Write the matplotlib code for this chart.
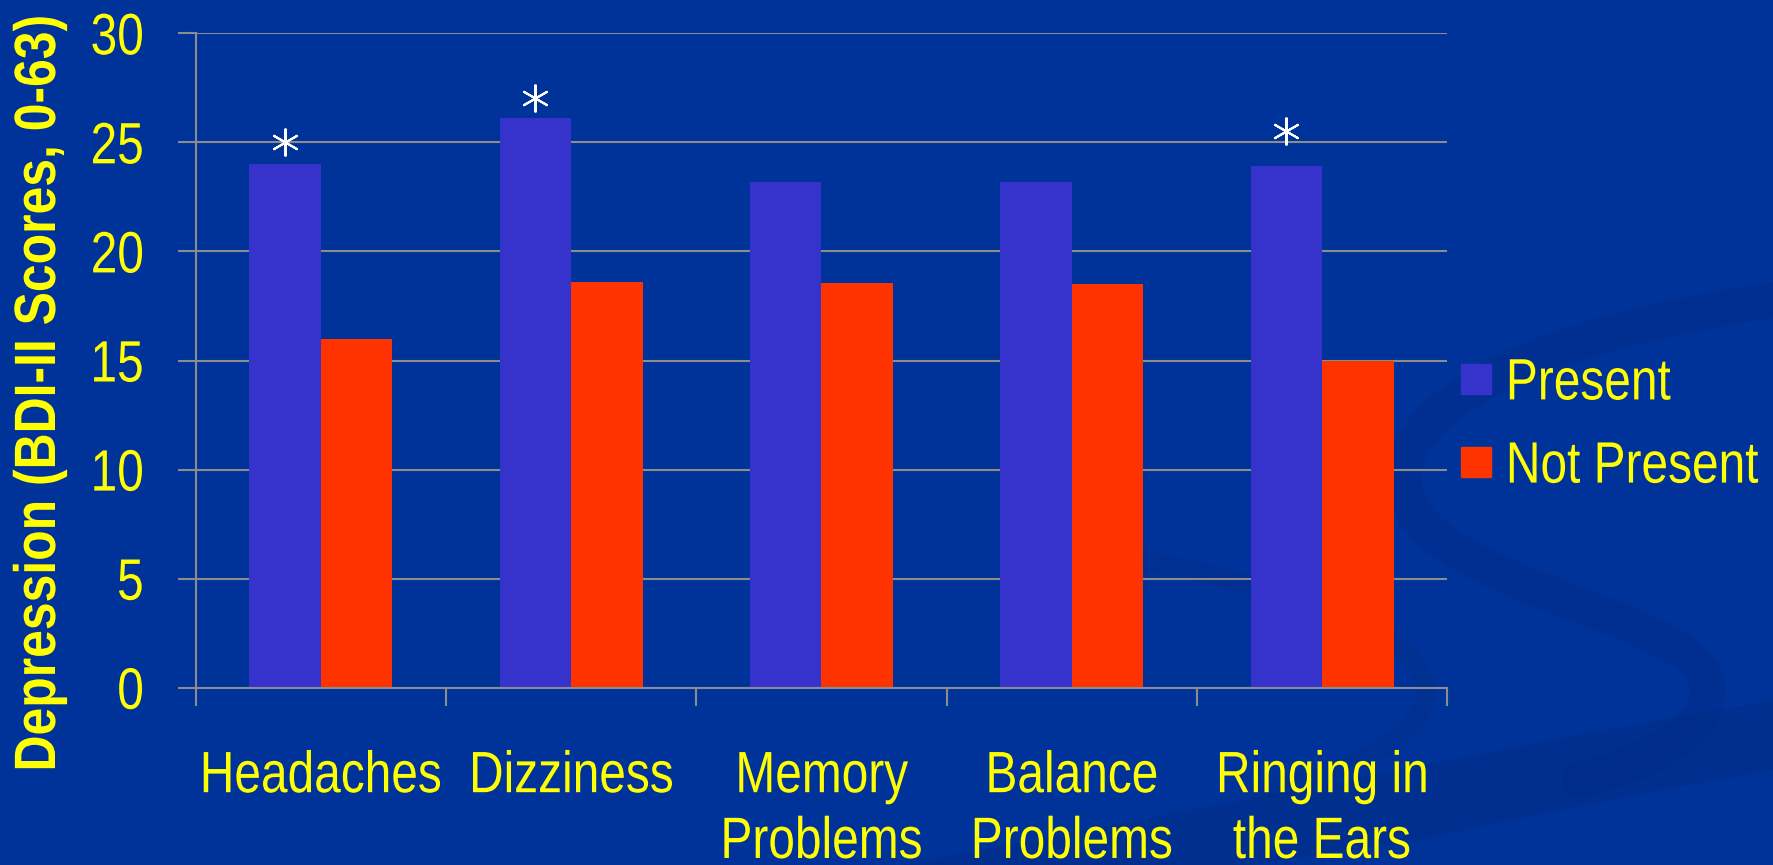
import matplotlib
matplotlib.use("Agg")
import matplotlib.pyplot as plt
from matplotlib.lines import Line2D
from matplotlib.patheffects import AbstractPathEffect
from matplotlib.transforms import Affine2D
from matplotlib.path import Path
from matplotlib.patches import PathPatch
import numpy as np

# ---- data ----
categories = ["Headaches", "Dizziness", "Memory\nProblems", "Balance\nProblems", "Ringing in\nthe Ears"]
series_names = ["Present", "Not Present"]
present = [24.0, 26.1, 23.2, 23.2, 23.9]
not_present = [16.0, 18.6, 18.55, 18.5, 15.0]
significant = [True, True, False, False, True]
star_offsets = [1.0, 0.95, 0.0, 0.0, 1.6]
yticks = [0, 5, 10, 15, 20, 25, 30]
ylabel = "Depression (BDI-II Scores, 0-63)"


class Squeeze(AbstractPathEffect):
    """Draw text horizontally condensed (emulates a narrow face)."""

    def __init__(self, sx=0.82, anchor="center"):
        super().__init__()
        self.sx = sx
        self.anchor = anchor

    def draw_path(self, renderer, gc, tpath, affine, rgbFace=None):
        ext = tpath.get_extents()
        if self.anchor == "left":
            x0 = 0.0
        elif self.anchor == "right":
            x0 = ext.x1
        else:
            x0 = (ext.x0 + ext.x1) / 2
        t = Affine2D().translate(-x0, 0).scale(self.sx, 1).translate(x0, 0) + affine
        renderer.draw_path(gc, tpath, t, rgbFace)


FONT = "Liberation Sans"
BG = "#003399"
SWIRL = "#002A84"
BLUE = "#3633CC"
RED = "#FF3300"
YEL = "#FFFF00"
GRID = "#8C8C8C"
FS = 42

W, H = 1773, 865
fig = plt.figure(figsize=(W / 100, H / 100), dpi=100)
fig.patch.set_facecolor(BG)

# decorative background swirls (pixel space of the slide)
bg = fig.add_axes([0, 0, 1, 1], zorder=-5)
bg.set_xlim(0, W)
bg.set_ylim(H, 0)
bg.axis("off")
swirl = Path([(1773, 300), (1500, 340), (1390, 420), (1405, 490),
              (1420, 570), (1600, 600), (1680, 650),
              (1740, 690), (1700, 750), (1580, 780)],
             [Path.MOVETO, Path.CURVE4, Path.CURVE4, Path.CURVE4,
              Path.CURVE4, Path.CURVE4, Path.CURVE4,
              Path.CURVE4, Path.CURVE4, Path.CURVE4])
bg.add_patch(PathPatch(swirl, fill=False, lw=26, edgecolor=SWIRL, alpha=0.38, capstyle="round"))
loop = Path([(1140, 560), (1300, 590), (1440, 640), (1425, 700),
             (1410, 750), (1330, 775), (1260, 790)],
            [Path.MOVETO, Path.CURVE4, Path.CURVE4, Path.CURVE4,
             Path.CURVE4, Path.CURVE4, Path.CURVE4])
bg.add_patch(PathPatch(loop, fill=False, lw=14, edgecolor=SWIRL, alpha=0.3, capstyle="round"))
band = Path([(900, 865), (1300, 790), (1550, 740), (1773, 700),
             (1773, 770), (1600, 800), (1420, 840), (1250, 865), (900, 865)],
            [Path.MOVETO, Path.CURVE3, Path.CURVE3, Path.LINETO,
             Path.LINETO, Path.CURVE3, Path.CURVE3, Path.LINETO, Path.CLOSEPOLY])
bg.add_patch(PathPatch(band, facecolor=SWIRL, edgecolor="none", alpha=0.4))

ax = fig.add_axes([195.6 / W, 1 - 687.7 / H, (1447.3 - 195.6) / W, (687.7 - 33.3) / H])
ax.set_facecolor("none")

x = np.arange(len(categories))
w = 0.286
ax.bar(x - w / 2, present, w, color=BLUE, zorder=2)
ax.bar(x + w / 2, not_present, w, color=RED, zorder=2)

for xi, p, s, off in zip(x, present, significant, star_offsets):
    if s:
        ax.plot([xi - w / 2], [p + off], ls="none", marker=(6, 2, 0), ms=20,
                mew=1.5, mec="white", mfc="white", zorder=3)

ax.set_xlim(-0.5, len(categories) - 0.5)
ax.set_ylim(0, 30)
ax.set_yticks(yticks)
ax.set_yticklabels([str(t) for t in yticks], fontsize=FS, color=YEL, family=FONT)
ax.set_xticks(x)
ax.set_xticklabels(categories, fontsize=FS, color=YEL, family=FONT, linespacing=1.28, va="top")
ax.set_xticks(np.arange(-0.5, len(categories), 1.0), minor=True)
for lab in ax.get_yticklabels():
    lab.set_path_effects([Squeeze(0.82, "right")])
for lab in ax.get_xticklabels():
    lab.set_path_effects([Squeeze(0.82, "center")])

ax.tick_params(axis="x", which="major", length=0, pad=45)
ax.tick_params(axis="x", which="minor", length=13, width=1.5, color=GRID, direction="out")
ax.tick_params(axis="y", which="major", length=13, width=1.5, color=GRID, direction="out", pad=24)

ax.grid(axis="y", color=GRID, linewidth=1.5)
ax.set_axisbelow(True)
for side in ["top", "right"]:
    ax.spines[side].set_visible(False)
for side in ["left", "bottom"]:
    ax.spines[side].set_color(GRID)
    ax.spines[side].set_linewidth(1.5)

yl = fig.text(40 / W, 1 - 393 / H, ylabel, rotation=90, ha="center", va="center",
              fontsize=FS, fontweight="bold", color=YEL, family=FONT)
yl.set_path_effects([Squeeze(0.855, "center")])

handles = [Line2D([], [], ls="none", marker="s", ms=21.6, color=c, mec=c) for c in (BLUE, RED)]
leg = fig.legend(handles, series_names, loc="center left", bbox_to_anchor=(1461 / W, 1 - 426 / H),
                 frameon=False, handlelength=0.52, handletextpad=0.25,
                 borderpad=0, borderaxespad=0, labelspacing=0.50, prop={"family": FONT, "size": FS})
for t in leg.get_texts():
    t.set_color(YEL)
    t.set_path_effects([Squeeze(0.82, "left")])

fig.savefig("out.png", dpi=100, facecolor=BG)
